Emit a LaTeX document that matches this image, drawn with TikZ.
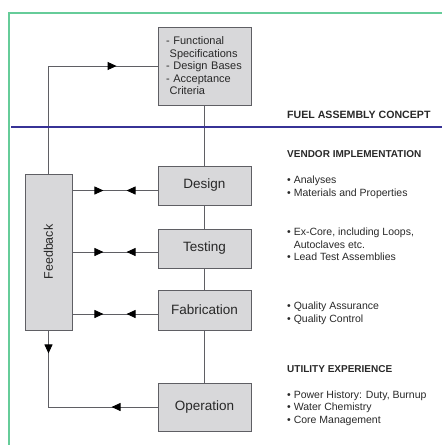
\documentclass[tikz,border=0pt]{standalone}
\usepackage{fontspec}
\setmainfont{Liberation Sans}
\usetikzlibrary{arrows.meta,decorations.markings,calc}
\definecolor{framegreen}{RGB}{102,204,153}
\definecolor{divider}{RGB}{55,50,150}
\definecolor{panelgray}{RGB}{216,216,218}
\definecolor{edgegray}{RGB}{95,95,100}
\definecolor{txt}{RGB}{40,40,40}
\tikzset{
  tri/.tip={Triangle[length=9pt,width=8pt]},
  fwdat/.style={postaction={decorate,decoration={markings,mark=at position #1 with {\arrow[black]{tri}}}}},
  revat/.style={postaction={decorate,decoration={markings,mark=at position #1 with {\arrowreversed[black]{tri}}}}},
  stagebox/.style={draw=edgegray,fill=panelgray,line width=0.9pt,minimum width=93pt,inner sep=0pt,
    font=\fontsize{13.5}{15}\selectfont,text=txt},
  conn/.style={draw=edgegray,line width=0.9pt},
  head/.style={anchor=west,inner sep=0pt,font=\fontsize{10}{12}\selectfont\bfseries,text=txt},
  blist/.style={anchor=north west,inner sep=0pt,align=left,font=\fontsize{10.5}{12.4}\selectfont,text=txt}
}
\begin{document}
\begin{tikzpicture}[x=1pt,y=-1pt]
\useasboundingbox (0,0) rectangle (442,445);
% frame
\draw[framegreen,line width=2pt] (9,445) -- (9,13) -- (442,13);
% boxes
\node[stagebox,minimum height=78pt,text width=77pt,align=left,inner xsep=8pt,
  font=\fontsize{11}{12.5}\selectfont] (spec) at (204.5,66)
  {- Functional\\\phantom{-}Specifications\\- Design Bases\\- Acceptance\\\phantom{-}Criteria};
\node[stagebox,minimum height=39pt] (design) at (204.5,185.5) {Design};
\node[stagebox,minimum height=39pt] (testing) at (204.5,248.5) {Testing};
\node[stagebox,minimum height=40pt] (fab) at (204.5,310) {Fabrication};
\node[stagebox,minimum height=48pt] (oper) at (204.5,407) {Operation};
\node[stagebox,minimum width=47pt,minimum height=156pt] (feedback) at (48.5,252) {};
\node[rotate=90,inner sep=0pt,font=\fontsize{12.5}{14}\selectfont,text=txt] (fbtext) at (feedback.center) {Feedback};
% vertical chain
\draw[conn] (spec.south) -- (design.north);
\draw[conn] (design.south) -- (testing.north);
\draw[conn] (testing.south) -- (fab.north);
\draw[conn] (fab.south) -- (oper.north);
% feedback links
\path ($(design.west)+(0,5)$) coordinate (dL);
\path ($(testing.west)+(0,3.5)$) coordinate (tL);
\path ($(fab.west)+(0,4)$) coordinate (fL);
\draw[conn,fwdat=31pt,revat=-31pt] (feedback.east |- dL) -- (dL);
\draw[conn,fwdat=31pt,revat=-31pt] (feedback.east |- tL) -- (tL);
\draw[conn,fwdat=31pt,revat=-31pt] (feedback.east |- fL) -- (fL);
\draw[conn,fwdat=-41pt] (feedback.north) |- (spec.west);
\draw[conn,fwdat=46pt,revat=-23pt] (oper.west) -| (feedback.south);
% divider
\draw[divider,line width=2pt] (11,127) -- (442,127);
% right-hand text
\node[head,font=\fontsize{10.6}{12}\selectfont\bfseries] (h1) at (287,114.5) {FUEL ASSEMBLY CONCEPT};
\node[head] (h2) at (287,154) {VENDOR IMPLEMENTATION};
\node[head] (h3) at (287,369) {UTILITY EXPERIENCE};
\node[blist] (l1) at (287,176) {• Analyses\\• Materials and Properties};
\node[blist] (l2) at (287,228) {• Ex-Core, including Loops,\\\phantom{• }Autoclaves etc.\\• Lead Test Assemblies};
\node[blist] (l3) at (287,302) {• Quality Assurance\\• Quality Control};
\node[blist] (l4) at (287,390.5) {• Power History: Duty, Burnup\\• Water Chemistry\\• Core Management};
\end{tikzpicture}
\end{document}
